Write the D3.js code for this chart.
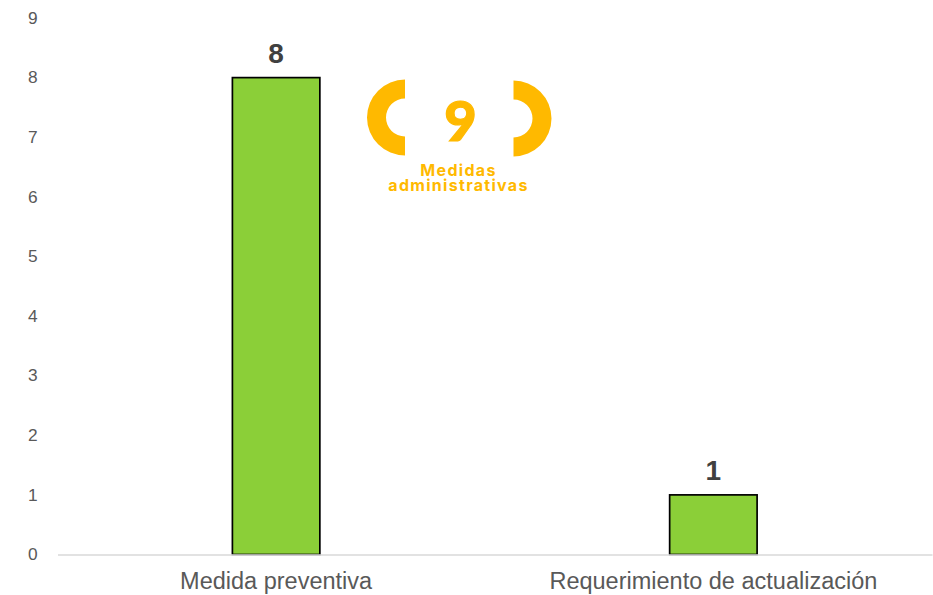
<!DOCTYPE html>
<html><head><meta charset="utf-8">
<script src="https://cdnjs.cloudflare.com/ajax/libs/d3/7.8.5/d3.min.js"></script>
<style>html,body{margin:0;padding:0;background:#fff}svg{display:block}</style>
</head><body><svg id="c" width="933" height="595"></svg>
<script>
const categories = ["Medida preventiva", "Requerimiento de actualización"];
const values = [8, 1];
const yTicks = [0,1,2,3,4,5,6,7,8,9];
const badgeNumber = "9";
const badgeLines = ["Medidas", "administrativas"];

const svg = d3.select("#c");
const sans = "'Liberation Sans', Arial, sans-serif";
const x = d3.scaleBand().domain(categories).range([57.5, 932]).paddingInner(0.8).paddingOuter(0.4);
const y = d3.scaleLinear().domain([0, 9]).range([554.5, 18]);

const gy = svg.append("g").attr("transform", "translate(57.5,0)")
  .call(d3.axisLeft(y).tickValues(yTicks).tickSize(0).tickPadding(20).tickFormat(d3.format("d")));
gy.select(".domain").remove();
gy.selectAll("text").attr("font-family", sans).attr("font-size", 17.3).attr("fill", "#595959").attr("dy", "0.3em");

svg.selectAll("rect.bar").data(values).join("rect").attr("class", "bar")
  .attr("x", (d, i) => x(categories[i]))
  .attr("y", d => y(d))
  .attr("width", x.bandwidth())
  .attr("height", d => y(0) - y(d))
  .attr("fill", "#8BCF38").attr("stroke", "#000").attr("stroke-width", 1.7);

const gx = svg.append("g").attr("transform", "translate(0,554.5)")
  .call(d3.axisBottom(x).tickSize(0).tickPadding(18));
gx.select(".domain").attr("stroke", "#D9D9D9").attr("stroke-width", 1.5);
gx.selectAll("text").attr("font-family", sans).attr("font-size", 23.5).attr("fill", "#595959");

svg.selectAll("text.lab").data(values).join("text").attr("class", "lab")
  .attr("x", (d, i) => x(categories[i]) + x.bandwidth() / 2)
  .attr("y", d => y(d) - 15)
  .attr("text-anchor", "middle")
  .attr("font-family", sans).attr("font-weight", 700).attr("font-size", 28).attr("fill", "#404040")
  .text(d => d);

const amber = "#FFB900";
const arc = d3.arc().innerRadius(19).outerRadius(38);
svg.append("path").attr("transform", "translate(405,117.5)").attr("fill", amber)
  .attr("d", arc({startAngle: -Math.PI, endAngle: 0}));
svg.append("path").attr("transform", "translate(513.5,118.5)").attr("fill", amber)
  .attr("d", arc({startAngle: 0, endAngle: Math.PI}));
svg.append("text").attr("x", 460.5).attr("y", 141).attr("text-anchor", "middle")
  .attr("font-family", "Lato, sans-serif").attr("font-weight", 900).attr("font-size", 56)
  .attr("fill", amber).attr("stroke", amber).attr("stroke-width", 1.2)
  .text(badgeNumber);
svg.selectAll("text.badge").data(badgeLines).join("text").attr("class", "badge")
  .attr("x", 458.5).attr("y", (d, i) => 176 + i * 15.3)
  .attr("text-anchor", "middle")
  .attr("font-family", "Inter, sans-serif").attr("font-weight", 700).attr("font-size", 16)
  .attr("letter-spacing", 1.3).attr("fill", amber)
  .text(d => d);
</script></body></html>
